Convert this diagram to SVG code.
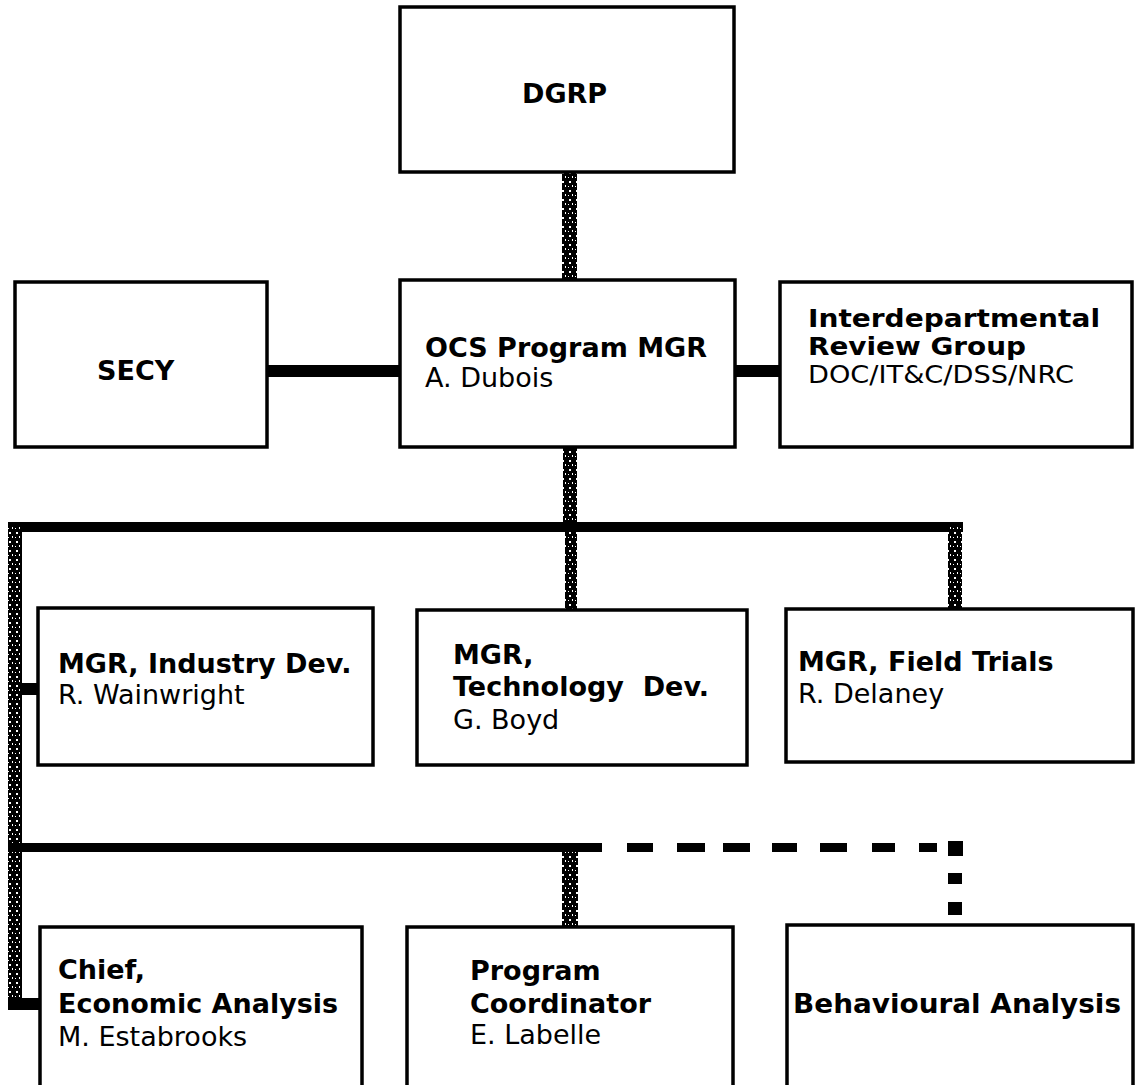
<svg xmlns="http://www.w3.org/2000/svg" width="1135" height="1085" viewBox="0 0 1135 1085">
  <defs>
    <!-- halftone-style grain used on the vertical reporting lines -->
    <pattern id="grain" patternUnits="userSpaceOnUse" width="7" height="9">
      <rect width="7" height="9" fill="#000"/>
      <rect x="2" y="1" width="2" height="2" fill="#fff"/>
      <rect x="5" y="5" width="1" height="2" fill="#fff"/>
      <rect x="1" y="6" width="1" height="1" fill="#fff"/>
    </pattern>
    <style>
      .box { fill: #fff; stroke: #000; stroke-width: 3.5; }
      .solid { fill: #000; }
      .grain { fill: url(#grain); }
      .dash { fill: #000; }
      text { font-family: "DejaVu Sans", "Liberation Sans", sans-serif; font-size: 27px; fill: #000; }
      .b { font-weight: bold; }
      .tight { font-size: 24px; }
    </style>
  </defs>

  <rect width="1135" height="1085" fill="#fff"/>

  <!-- connectors -->
  <g id="connectors">
    <rect class="grain" x="562" y="172" width="15" height="108"/>
    <rect class="solid" x="267" y="365" width="133" height="12"/>
    <rect class="solid" x="735" y="365" width="45" height="12"/>
    <rect class="grain" x="563" y="447" width="14" height="80"/>
    <rect class="solid" x="8" y="522" width="955" height="10"/>
    <rect class="grain" x="565" y="532" width="12" height="78"/>
    <rect class="grain" x="948" y="527" width="14" height="82"/>
    <rect class="grain" x="8" y="527" width="14" height="483"/>
    <rect class="solid" x="22" y="683" width="16" height="12"/>
    <rect class="solid" x="8" y="843" width="594" height="9"/>
    <rect class="grain" x="562" y="852" width="16" height="75"/>
    <rect class="solid" x="8" y="998" width="32" height="12"/>
    <!-- dotted line to Behavioural Analysis -->
    <rect class="dash" x="627" y="843" width="26" height="9"/>
    <rect class="dash" x="677" y="843" width="28" height="9"/>
    <rect class="dash" x="723" y="843" width="27" height="9"/>
    <rect class="dash" x="772" y="843" width="25" height="9"/>
    <rect class="dash" x="820" y="843" width="27" height="9"/>
    <rect class="dash" x="872" y="843" width="23" height="9"/>
    <rect class="dash" x="919" y="843" width="18" height="9"/>
    <rect class="dash" x="948" y="841" width="15" height="15"/>
    <rect class="dash" x="948" y="873" width="14" height="11"/>
    <rect class="dash" x="948" y="902" width="14" height="13"/>
  </g>

  <g id="dgrp">
    <rect class="box" x="400" y="7" width="334" height="165"/>
    <text class="b" x="522" y="103">DGRP</text>
  </g>

  <g id="secy">
    <rect class="box" x="15" y="282" width="252" height="165"/>
    <text class="b" x="97" y="380">SECY</text>
  </g>

  <g id="ocs-program-mgr">
    <rect class="box" x="400" y="280" width="335" height="167"/>
    <text class="b" x="425" y="357">OCS Program MGR</text>
    <text x="425" y="387">A. Dubois</text>
  </g>

  <g id="review-group">
    <rect class="box" x="780" y="282" width="352" height="165"/>
    <text class="b tight" x="808" y="327" textLength="292" lengthAdjust="spacingAndGlyphs">Interdepartmental</text>
    <text class="b tight" x="808" y="355" textLength="218" lengthAdjust="spacingAndGlyphs">Review Group</text>
    <text class="tight" x="808" y="383" textLength="266" lengthAdjust="spacingAndGlyphs">DOC/IT&amp;C/DSS/NRC</text>
  </g>

  <g id="industry-dev">
    <rect class="box" x="38" y="608" width="335" height="157"/>
    <text class="b" x="58" y="673">MGR, Industry Dev.</text>
    <text x="58" y="704">R. Wainwright</text>
  </g>

  <g id="technology-dev">
    <rect class="box" x="417" y="610" width="330" height="155"/>
    <text class="b" x="453" y="664">MGR,</text>
    <text class="b" x="453" y="696" xml:space="preserve">Technology  Dev.</text>
    <text x="453" y="729">G. Boyd</text>
  </g>

  <g id="field-trials">
    <rect class="box" x="786" y="609" width="347" height="153"/>
    <text class="b" x="798" y="671">MGR, Field Trials</text>
    <text x="798" y="703">R. Delaney</text>
  </g>

  <g id="economic-analysis">
    <rect class="box" x="40" y="927" width="322" height="170"/>
    <text class="b" x="58" y="979">Chief,</text>
    <text class="b" x="58" y="1013">Economic Analysis</text>
    <text x="58" y="1046">M. Estabrooks</text>
  </g>

  <g id="program-coordinator">
    <rect class="box" x="407" y="927" width="326" height="170"/>
    <text class="b" x="470" y="980">Program</text>
    <text class="b" x="470" y="1013">Coordinator</text>
    <text x="470" y="1044">E. Labelle</text>
  </g>

  <g id="behavioural-analysis">
    <rect class="box" x="787" y="925" width="346" height="172"/>
    <text class="b" x="793" y="1013" textLength="328" lengthAdjust="spacingAndGlyphs">Behavioural Analysis</text>
  </g>
</svg>
